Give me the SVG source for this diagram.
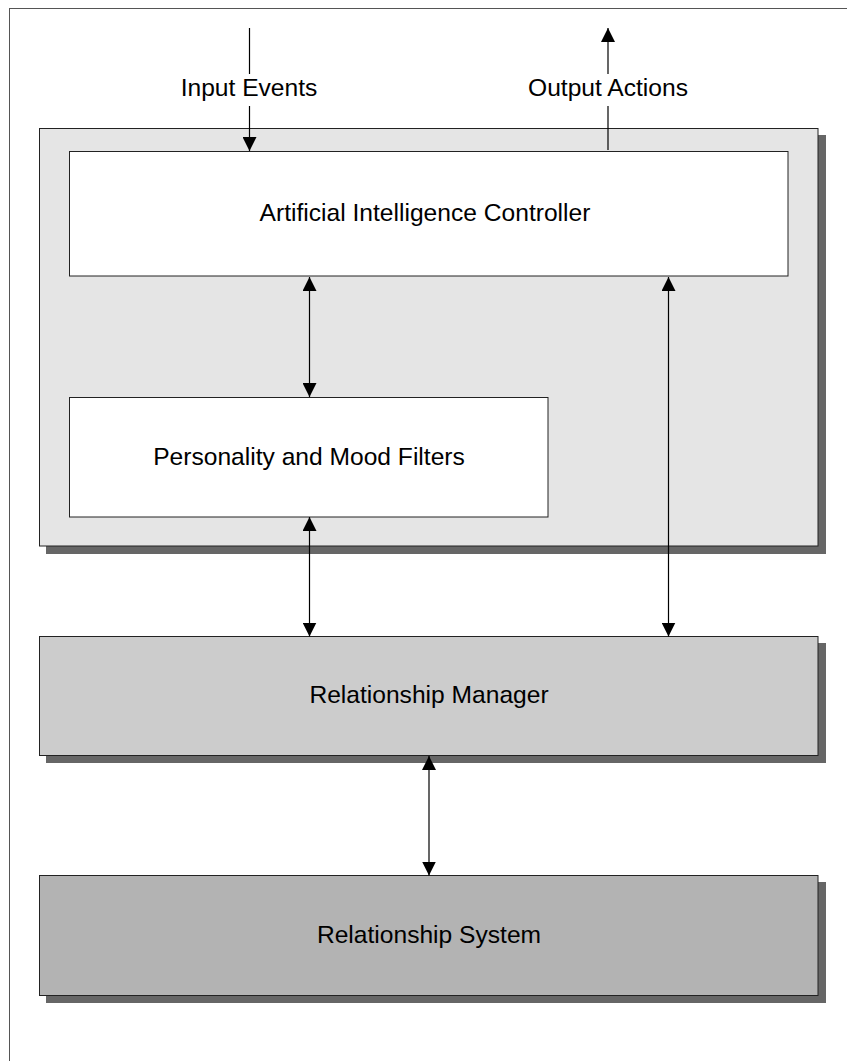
<svg xmlns="http://www.w3.org/2000/svg" width="847" height="1061" viewBox="0 0 847 1061">
<defs>
<style>
text{font-family:"Liberation Sans",Arial,sans-serif;font-size:24.6px;fill:#000;text-anchor:middle}
.box{stroke:#222;stroke-width:1}
.shadow{fill:#666}
.conn line{stroke:#000;stroke-width:1.2;fill:none}
</style>
<marker id="ah" viewBox="0 0 14 14" refX="14" refY="7" markerWidth="14" markerHeight="14" markerUnits="userSpaceOnUse" orient="auto-start-reverse">
<path d="M0,0 L14,7 L0,14 Z" fill="#000"/>
</marker>
</defs>
<rect width="847" height="1061" fill="#fff"/>
<rect x="9.5" y="8.5" width="850" height="1070" fill="none" stroke="#555" stroke-width="1"/>
<g id="container">
<rect class="shadow" x="46" y="135" width="780" height="419"/>
<rect class="box" x="39.5" y="128.5" width="778.5" height="417.5" fill="#e5e5e5"/>
</g>
<g id="ai-controller">
<rect class="box" x="69.5" y="151.5" width="718.5" height="124.5" fill="#fff"/>
<text x="425" y="221">Artificial Intelligence Controller</text>
</g>
<g id="personality">
<rect class="box" x="69.5" y="397.5" width="478.5" height="119.5" fill="#fff"/>
<text x="309" y="465">Personality and Mood Filters</text>
</g>
<g id="relationship-manager">
<rect class="shadow" x="46" y="643" width="780" height="120"/>
<rect class="box" x="39.5" y="636.5" width="778.5" height="119" fill="#ccc"/>
<text x="429" y="703">Relationship Manager</text>
</g>
<g id="relationship-system">
<rect class="shadow" x="46" y="882" width="780" height="121"/>
<rect class="box" x="39.5" y="875.5" width="778.5" height="120" fill="#b3b3b3"/>
<text x="429" y="943">Relationship System</text>
</g>
<g id="labels">
<text x="249" y="96">Input Events</text>
<text x="608" y="96">Output Actions</text>
</g>
<g class="conn" id="connectors">
<line x1="249.5" y1="28" x2="249.5" y2="74"/>
<line x1="249.5" y1="106" x2="249.5" y2="151" marker-end="url(#ah)"/>
<line x1="608" y1="150" x2="608" y2="106"/>
<line x1="608" y1="74" x2="608" y2="28" marker-end="url(#ah)"/>
<line x1="309.5" y1="277" x2="309.5" y2="397" marker-start="url(#ah)" marker-end="url(#ah)"/>
<line x1="668.5" y1="277" x2="668.5" y2="636.5" marker-start="url(#ah)" marker-end="url(#ah)"/>
<line x1="309.5" y1="517" x2="309.5" y2="636.5" marker-start="url(#ah)" marker-end="url(#ah)"/>
<line x1="429" y1="756" x2="429" y2="875.5" marker-start="url(#ah)" marker-end="url(#ah)"/>
</g>
</svg>
